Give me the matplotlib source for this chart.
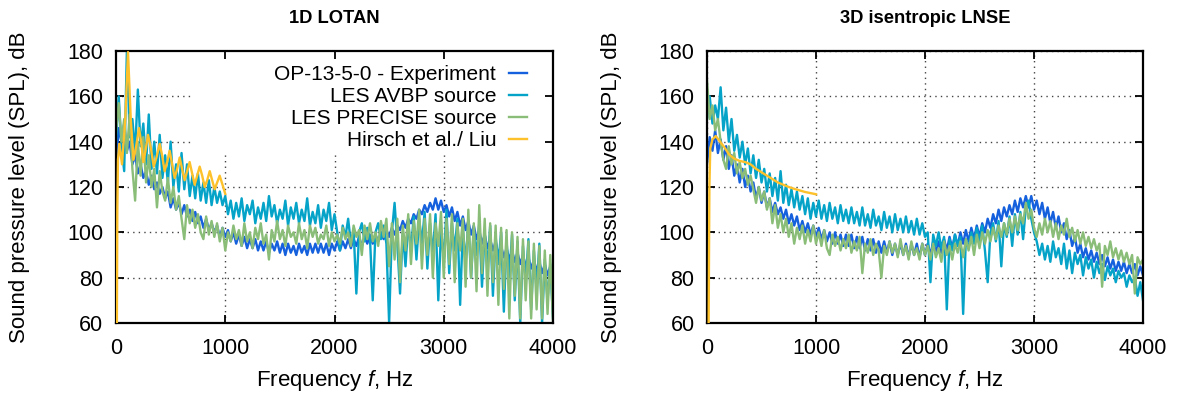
import numpy as np
import matplotlib.pyplot as plt

# spectra sampled every 25 Hz, 0..4000 Hz
freq = np.arange(0, 4001, 25)

lotan_exp = [
    130, 146, 140, 148, 136, 140, 130, 134, 126, 130, 124, 127, 121, 125, 119, 122, 117, 120, 115, 118,
    111, 115, 110, 113, 108, 112, 107, 110, 105, 109, 104, 107, 102, 106, 101, 104, 100, 103, 98, 102, 98,
    101, 96, 100, 95, 99, 94, 98, 93, 97, 93, 97, 92, 96, 92, 96, 91, 95, 92, 96, 91,
    95, 90, 95, 91, 94, 90, 95, 91, 94, 90, 95, 91, 95, 91, 95, 91, 95, 90, 95, 92,
    96, 92, 96, 93, 97, 93, 97, 94, 98, 94, 98, 95, 99, 95, 99, 96, 100, 97, 101, 98,
    102, 99, 103, 101, 105, 102, 106, 104, 108, 106, 110, 108, 112, 109, 113, 110, 115, 110, 114, 109,
    112, 107, 111, 105, 109, 103, 107, 101, 105, 99, 103, 97, 101, 95, 99, 93, 97, 92, 96, 90,
    94, 89, 93, 88, 92, 87, 91, 86, 90, 85, 89, 84, 88, 83, 87, 82, 86, 81, 85, 80,
]
lotan_avbp = [
    140, 160, 138, 127, 181, 142, 150, 135, 163, 138, 148, 130, 152, 128, 140, 126, 143, 124, 134, 122,
    140, 120, 130, 118, 135, 119, 130, 116, 125, 115, 126, 114, 122, 113, 123, 112, 120, 113, 118, 112, 116,
    108, 114, 106, 113, 107, 115, 105, 112, 108, 114, 104, 111, 106, 113, 105, 116, 107, 112, 104, 110,
    106, 114, 103, 111, 106, 113, 104, 110, 105, 115, 103, 109, 104, 112, 102, 110, 105, 113, 101, 108,
    100, 92, 103, 98, 106, 95, 101, 73, 100, 104, 96, 102, 97, 70, 100, 104, 97, 103, 95, 60,
    100, 113, 95, 73, 100, 85, 104, 92, 107, 88, 106, 95, 109, 84, 104, 90, 108, 70, 101, 88,
    110, 82, 104, 92, 106, 68, 102, 86, 105, 80, 101, 90, 104, 76, 100, 84, 103, 72, 98, 86,
    100, 65, 96, 80, 99, 70, 96, 60, 94, 78, 97, 66, 92, 74, 95, 60, 88, 70, 86, 62,
]
lotan_precise = [
    145, 157, 140, 150, 135, 152, 128, 114, 140, 125, 142, 122, 134, 120, 128, 111, 127, 118, 114, 124,
    113, 120, 110, 116, 106, 97, 112, 104, 110, 102, 108, 100, 97, 107, 99, 105, 98, 104, 96, 102, 92,
    100, 96, 103, 97, 101, 94, 104, 96, 100, 93, 102, 97, 104, 95, 99, 88, 101, 96, 105, 97,
    101, 94, 103, 98, 100, 95, 104, 97, 101, 93, 103, 98, 102, 95, 99, 97, 103, 94, 100, 96,
    99, 95, 102, 97, 100, 94, 103, 98, 101, 90, 103, 97, 104, 96, 100, 94, 105, 98, 106, 85,
    104, 88, 106, 78, 103, 92, 108, 86, 105, 95, 110, 84, 106, 90, 108, 80, 104, 94, 109, 80,
    106, 86, 108, 78, 104, 92, 106, 76, 110, 80, 104, 74, 112, 82, 106, 72, 104, 78, 103, 68,
    102, 75, 101, 62, 100, 72, 98, 62, 97, 70, 96, 62, 95, 66, 94, 62, 92, 64, 90, 60,
]
lotan_hirsch_f = [8, 12, 18, 30, 55, 85, 110, 135, 160, 185, 210, 230, 250, 270, 293, 320, 345, 370,
                  400, 422, 445, 468, 491, 514, 537, 560, 583, 605, 628, 651, 674, 697, 720, 743,
                  766, 789, 812, 835, 858, 880, 903, 926, 949, 975, 1000]
lotan_hirsch = [60, 110, 132, 139, 130, 150, 179.5, 150, 132, 138, 146, 140, 131, 136, 143, 137, 129, 133,
                139, 134, 127, 131, 136, 130, 124, 128, 133, 128, 123, 127, 131, 126, 121, 125,
                129, 125, 120, 123, 127, 123, 119, 122, 125, 121, 117]

lnse_exp = [
    130, 142, 136, 145, 135, 141, 132, 138, 128, 134, 125, 130, 122, 128, 120, 125, 118, 122, 115, 120,
    113, 118, 111, 115, 109, 113, 108, 111, 106, 110, 104, 108, 103, 107, 101, 105, 100, 104, 99, 103, 98,
    102, 97, 101, 96, 100, 95, 100, 95, 99, 94, 99, 94, 99, 93, 98, 93, 98, 92, 97, 92,
    97, 91, 96, 91, 96, 91, 96, 90, 95, 90, 95, 90, 95, 89, 95, 90, 95, 89, 95, 90,
    95, 90, 96, 91, 96, 91, 97, 92, 98, 93, 99, 94, 100, 95, 101, 96, 102, 97, 103, 98,
    104, 100, 106, 102, 108, 104, 110, 105, 111, 107, 112, 108, 114, 109, 115, 111, 116, 111, 116, 110,
    114, 108, 113, 106, 111, 104, 109, 102, 107, 100, 104, 97, 101, 94, 98, 91, 95, 89, 93, 88,
    92, 87, 91, 86, 90, 85, 89, 84, 88, 83, 87, 83, 87, 82, 86, 82, 86, 81, 85, 81,
]
lnse_avbp = [
    150, 160, 148, 156, 150, 164, 145, 155, 140, 150, 136, 143, 133, 140, 130, 137, 126, 134, 124, 132,
    122, 128, 118, 126, 116, 124, 114, 127, 113, 121, 112, 119, 111, 118, 110, 116, 108, 115, 106, 113, 107,
    114, 106, 112, 105, 113, 106, 111, 104, 112, 105, 110, 104, 111, 104, 109, 103, 111, 103, 108, 102,
    110, 103, 107, 101, 109, 102, 107, 100, 108, 101, 106, 100, 107, 100, 105, 99, 106, 99, 104, 98,
    100, 78, 99, 94, 100, 93, 98, 66, 97, 92, 99, 94, 98, 64, 97, 93, 100, 95, 102, 96,
    103, 92, 78, 100, 104, 96, 105, 85, 104, 98, 107, 94, 108, 99, 109, 97, 111, 114, 106, 100,
    96, 90, 95, 88, 94, 87, 96, 89, 93, 86, 95, 84, 92, 82, 91, 86, 90, 81, 89, 84,
    88, 80, 87, 82, 86, 79, 85, 81, 84, 78, 83, 80, 82, 76, 81, 78, 80, 72, 78, 70,
]
lnse_precise = [
    167, 150, 156, 145, 150, 140, 132, 128, 138, 130, 135, 126, 131, 124, 128, 121, 125, 119, 113, 120,
    114, 118, 110, 115, 104, 112, 102, 108, 100, 106, 98, 104, 95, 102, 97, 103, 95, 101, 96, 103, 95,
    100, 94, 101, 93, 90, 99, 94, 98, 92, 97, 93, 99, 91, 96, 92, 98, 82, 95, 91, 97,
    90, 95, 92, 80, 94, 90, 96, 91, 95, 89, 97, 90, 94, 88, 96, 90, 93, 88, 95, 90,
    94, 88, 95, 89, 93, 87, 96, 90, 94, 88, 95, 91, 96, 89, 97, 92, 98, 90, 99, 93,
    100, 95, 101, 96, 102, 97, 103, 98, 104, 99, 106, 100, 107, 101, 108, 104, 113, 106, 110, 102,
    98, 104, 99, 106, 100, 105, 98, 104, 97, 103, 99, 106, 98, 102, 96, 101, 95, 100, 94, 98,
    93, 97, 92, 95, 76, 94, 90, 96, 89, 93, 88, 92, 87, 91, 86, 90, 73, 89, 86, 88,
]
lnse_hirsch_f = [15, 22, 30, 50, 80, 120, 160, 200, 250, 300, 350, 400, 450, 500, 550, 600, 650,
                 700, 750, 800, 850, 900, 950, 1000]
lnse_hirsch = [60, 120, 137, 141, 142.5, 140, 137.5, 134.5, 132.5, 131.5, 131, 130, 128, 126.5, 125,
               123.5, 122, 121, 120, 119.2, 118.5, 117.8, 117.3, 116.8]

labels = ["OP-13-5-0 - Experiment", "LES AVBP source", "LES PRECISE source", "Hirsch et al./ Liu"]
colors = ["#1560dd", "#05a3c8", "#8abd78", "#fdc12b"]

plt.rcParams["font.family"] = ["Liberation Sans", "DejaVu Sans"]
plt.rcParams["mathtext.fontset"] = "custom"
plt.rcParams["mathtext.rm"] = "Liberation Sans"
plt.rcParams["mathtext.it"] = "Liberation Sans:italic"

W, H = 1181, 396
fig = plt.figure(figsize=(W / 100, H / 100), dpi=100)
ax1 = fig.add_axes([116 / W, 73 / H, 437 / W, 272 / H])
ax2 = fig.add_axes([707 / W, 73 / H, 436 / W, 272 / H])

grid_kw = dict(color="#444444", linestyle=(0, (1, 3)), linewidth=1.0, zorder=0.5)


def style_axes(ax, title):
    ax.set_xlim(0, 4000)
    ax.set_ylim(60, 180)
    ax.set_xticks([0, 1000, 2000, 3000, 4000])
    ax.set_yticks(range(60, 181, 20))
    ax.tick_params(direction="in", length=6, width=1.3, top=True, right=True, labelsize=15.5)
    ax.tick_params(axis="x", pad=11)
    ax.tick_params(axis="y", pad=9)
    for s in ax.spines.values():
        s.set_linewidth(1.6)
    ax.set_xlabel("Frequency $f$, Hz", fontsize=16, va="center")
    ax.xaxis.set_label_coords(0.5, -0.213)
    ax.set_ylabel("Sound pressure level (SPL), dB", fontsize=16, ha="center", va="center")
    ax.yaxis.set_label_coords(-0.22, 0.5)
    ax.text(0.5, 1.121, title, transform=ax.transAxes, ha="center", va="center",
            fontsize=13.2, fontweight="bold")


def plot_set(ax, exp, avbp, precise, hf, hv):
    lines = []
    for y, c, lab in zip([exp, avbp, precise], colors[:3], labels[:3]):
        (ln,) = ax.plot(freq, y, color=c, lw=1.7, label=lab, zorder=2)
        lines.append(ln)
    (ln,) = ax.plot(hf, hv, color=colors[3], lw=1.7, label=labels[3], zorder=3)
    lines.append(ln)
    return lines


handles = plot_set(ax1, lotan_exp, lotan_avbp, lotan_precise, lotan_hirsch_f, lotan_hirsch)
plot_set(ax2, lnse_exp, lnse_avbp, lnse_precise, lnse_hirsch_f, lnse_hirsch)

style_axes(ax1, "1D LOTAN")
style_axes(ax2, "3D isentropic LNSE")

# left panel: grid is hidden behind the key box
for yv in [80, 100, 120]:
    ax1.axhline(yv, **grid_kw)
for yv in [140, 160]:
    ax1.hlines(yv, 0, 680, **grid_kw)
for xv in [1000, 2000, 3000]:
    ax1.vlines(xv, 60, 135, **grid_kw)

ax2.grid(True, **{k: v for k, v in grid_kw.items() if k != "zorder"})
ax2.set_axisbelow(True)

ax1.legend(handles=handles, loc="upper right", bbox_to_anchor=(0.940, 0.948), frameon=False,
           markerfirst=False, handlelength=0.85, handletextpad=0.62, borderpad=0,
           borderaxespad=0, labelspacing=0.14, fontsize=15)

fig.savefig("out.png", dpi=100)
